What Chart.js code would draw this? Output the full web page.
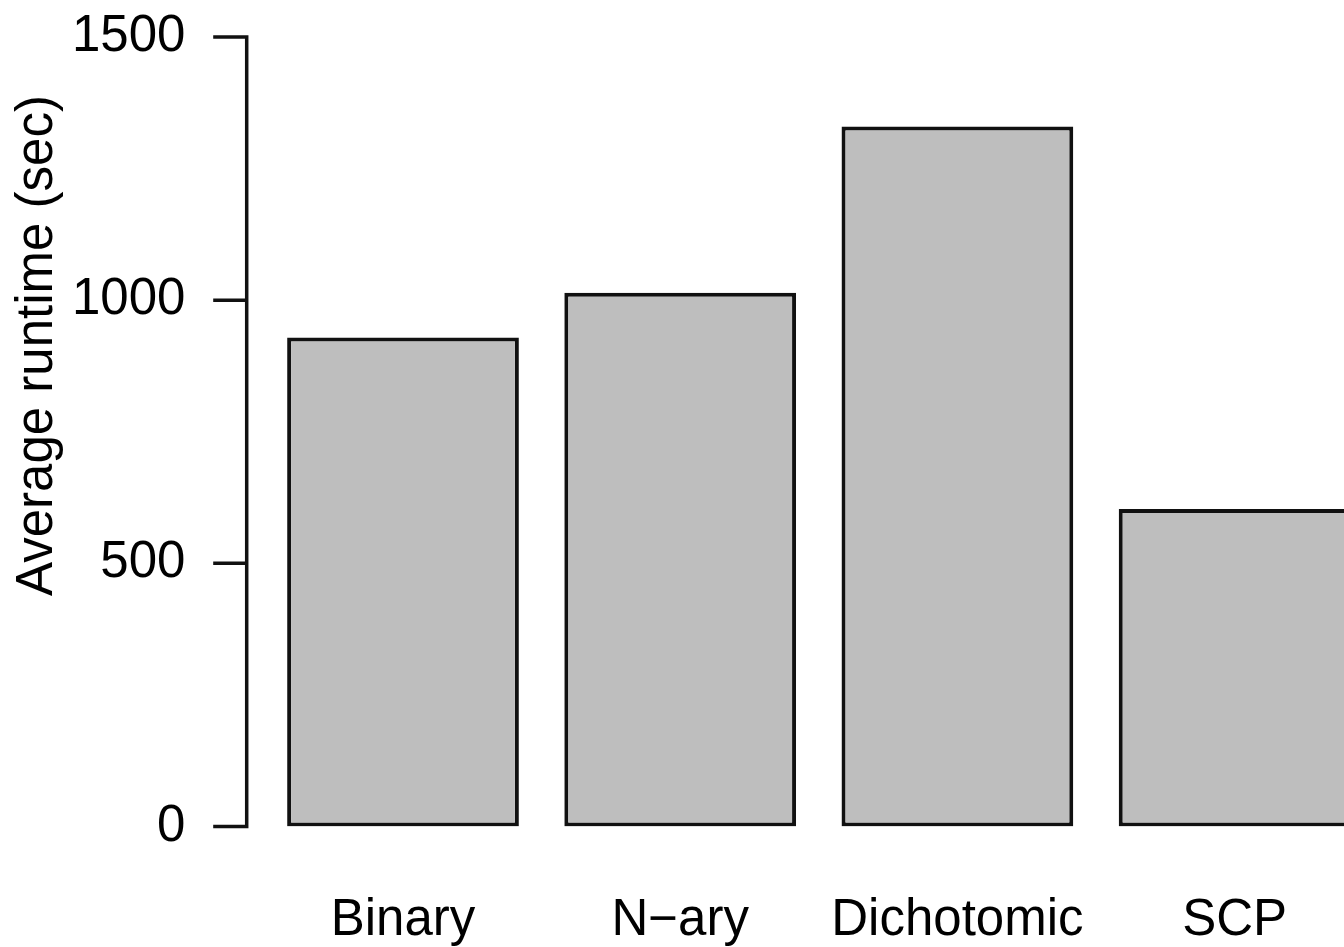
<!DOCTYPE html>
<html>
<head>
<meta charset="utf-8">
<title>Average runtime</title>
<script src="https://cdn.jsdelivr.net/npm/chart.js@4/dist/chart.umd.min.js"></script>
<style>
    html, body { margin: 0; padding: 0; background: #fff; overflow: hidden; }
    #chart { display: block; }
</style>
</head>
<body>
<canvas id="chart" width="1380" height="947"></canvas>
<script>
const categories = ['Binary', 'N\u2212ary', 'Dichotomic', 'SCP'];
const runtimes = [929, 1014, 1330, 603];
const yTicks = [0, 500, 1000, 1500];
const yTitle = 'Average runtime (sec)';

const FONT = '"Liberation Sans", Arial, Helvetica, sans-serif';
const INK = '#111';

// R-style y axis: line sits a bit left of the plot region, ticks point outward
const rAxis = {
    id: 'rAxis',
    afterDraw(chart) {
        const { ctx, chartArea, scales } = chart;
        const y = scales.y;
        const x = chartArea.left - 17.7;
        const top = y.getPixelForValue(yTicks[yTicks.length - 1]);
        const bottom = y.getPixelForValue(yTicks[0]);
        ctx.save();
        ctx.strokeStyle = INK;
        ctx.lineWidth = 3.5;
        ctx.lineCap = 'butt';
        ctx.beginPath();
        ctx.moveTo(x, top - 1.75);
        ctx.lineTo(x, bottom + 1.75);
        yTicks.forEach((v) => {
            const py = y.getPixelForValue(v);
            ctx.moveTo(x + 1.75, py);
            ctx.lineTo(x - 33.5, py);
        });
        ctx.stroke();

        ctx.fillStyle = '#000';
        ctx.font = `51px ${FONT}`;
        ctx.textAlign = 'center';
        ctx.textBaseline = 'alphabetic';
        ctx.translate(52, 345.5);
        ctx.rotate(-Math.PI / 2);
        ctx.fillText(yTitle, 0, 0);
        ctx.restore();
    }
};

new Chart(document.getElementById('chart'), {
    type: 'bar',
    data: {
        labels: categories,
        datasets: [{
            data: runtimes,
            backgroundColor: '#bebebe',
            borderColor: INK,
            borderWidth: 4,
            borderSkipped: false,
            barPercentage: 0.836,
            categoryPercentage: 1
        }]
    },
    options: {
        responsive: false,
        animation: false,
        devicePixelRatio: 1,
        layout: { padding: { top: 37, right: 6.8, left: 0, bottom: 0 } },
        plugins: {
            legend: { display: false },
            tooltip: { enabled: false }
        },
        scales: {
            x: {
                grid: { display: false, drawTicks: false },
                border: { display: false },
                ticks: {
                    color: '#000',
                    font: { family: FONT, size: 51 },
                    padding: 64,
                    maxRotation: 0,
                    autoSkip: false
                },
                afterFit(scale) {
                    scale.height = 120.5;
                    scale.paddingLeft = 0;
                    scale.paddingRight = 0;
                }
            },
            y: {
                min: 0,
                max: 1500,
                grid: { display: false, drawTicks: false },
                border: { display: false },
                ticks: {
                    stepSize: 500,
                    color: '#000',
                    font: { family: FONT, size: 51 },
                    padding: 79,
                    callback: (value) => String(value)
                },
                afterFit(scale) {
                    scale.width = 264.4;
                    scale.paddingTop = 0;
                    scale.paddingBottom = 0;
                }
            }
        }
    },
    plugins: [rAxis]
});
</script>
</body>
</html>
